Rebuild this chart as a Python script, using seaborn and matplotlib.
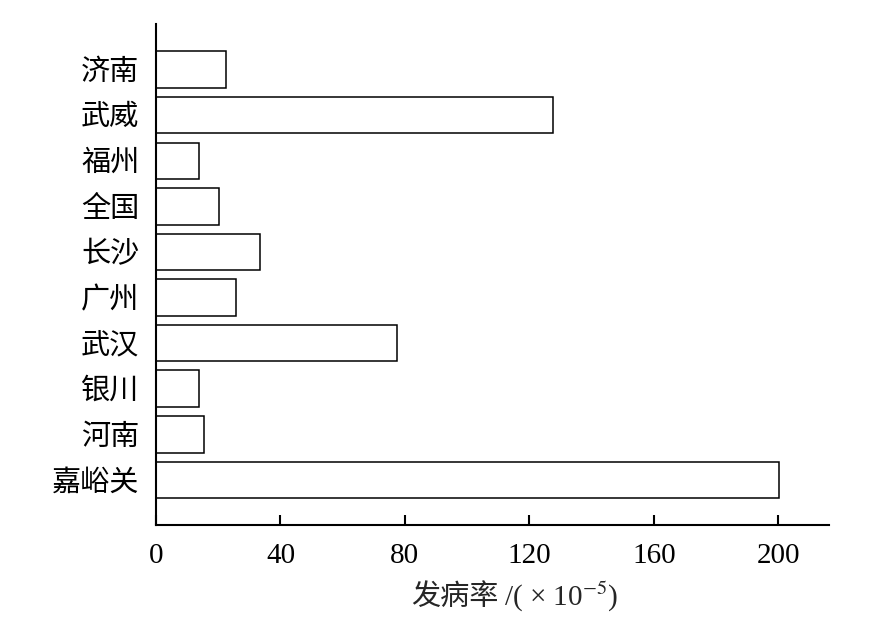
import matplotlib
matplotlib.use('Agg')
import matplotlib.pyplot as plt
import seaborn as sns

# 各地发病率 (×10^-5)
cities = ['济南', '武威', '福州', '全国', '长沙', '广州', '武汉', '银川', '河南', '嘉峪关']
rates = [22.6, 127.7, 13.7, 20.3, 33.5, 25.6, 77.3, 13.8, 15.3, 200.2]
xticks = [0, 40, 80, 120, 160, 200]

sns.set_style('ticks')
plt.rcParams['font.family'] = ['Liberation Serif', 'Noto Sans CJK SC']
plt.rcParams['mathtext.fontset'] = 'stix'

fig = plt.figure(figsize=(8.83, 6.21), dpi=100)
ax = fig.add_axes([0.1767, 0.1546, 0.7621, 0.8068])

sns.barplot(x=rates, y=cities, orient='h', color='white', edgecolor='black',
            linewidth=1.1, width=0.8, saturation=1, ax=ax)

ax.set_xlim(0, 216.3)
ax.set_ylim(9.99, -1.0)
ax.set_xticks(xticks)
ax.set_xticklabels([str(t) for t in xticks])

sns.despine(ax=ax)
for s in ['left', 'bottom']:
    ax.spines[s].set_linewidth(1.5)
    ax.spines[s].set_color('black')

ax.tick_params(axis='x', direction='in', length=7, width=1.5, pad=13,
               labelsize=21, colors='black')
ax.tick_params(axis='y', length=0, pad=12, labelsize=21, colors='black')
ax.set_xlabel('')
ax.set_ylabel('')

# x轴标题: 中文部分和数学部分分开写, 这样上标能正常显示
fig.text(0.564, 0.039, '发病率', fontsize=21, ha='right', va='center',
         family=['Noto Sans CJK SC'])
fig.text(0.571, 0.039, '/( × 10$^{-5}$)', fontsize=21, ha='left', va='center',
         family=['Liberation Serif'])

fig.savefig('out.png', dpi=100)
